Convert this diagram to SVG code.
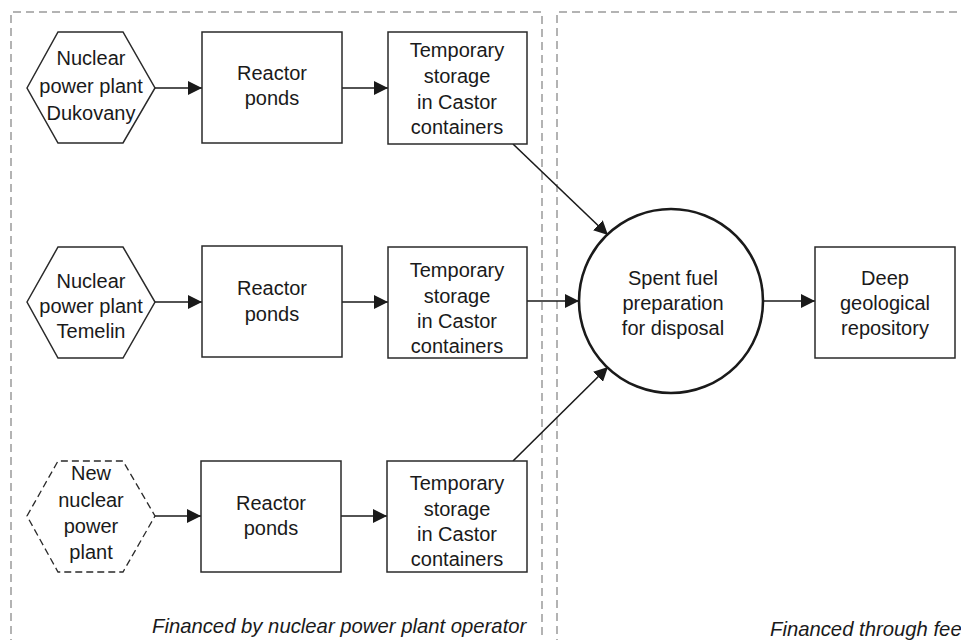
<svg xmlns="http://www.w3.org/2000/svg" width="961" height="640" viewBox="0 0 961 640">
<style>
.region{fill:none;stroke:#9a9a9a;stroke-width:1.5;stroke-dasharray:8 5}
.box{fill:#fff;stroke:#2a2a2a;stroke-width:1.5}
.hexd{fill:#fff;stroke:#2a2a2a;stroke-width:1.3;stroke-dasharray:7 4}
.circ{fill:#fff;stroke:#1a1a1a;stroke-width:2.6}
.t{font-family:"Liberation Sans",Arial,sans-serif;font-size:20px;fill:#1a1a1a;text-anchor:middle}
.cap{font-family:"Liberation Sans",Arial,sans-serif;font-size:20.3px;font-style:italic;fill:#1a1a1a}
.c{stroke:#1a1a1a;stroke-width:1.6;fill:none;marker-end:url(#ah)}
</style>
<defs>
<marker id="ah" viewBox="0 0 14 14" refX="14" refY="7" markerWidth="14" markerHeight="14" markerUnits="userSpaceOnUse" orient="auto">
<path d="M0,0 L14,7 L0,14 Z" fill="#1a1a1a"/>
</marker>
</defs>
<rect width="961" height="640" fill="#fff"/>
<g id="regions">
<path class="region" d="M11,660 V12 H542 V660"/>
<path class="region" d="M557,660 V12 H980"/>
<text class="cap" x="152" y="633">Financed by nuclear power plant operator</text>
<text class="cap" x="770" y="636">Financed through fee</text>
</g>
<g id="connectors">
<line class="c" x1="155" y1="88" x2="202" y2="88"/>
<line class="c" x1="342" y1="88" x2="388" y2="88"/>
<line class="c" x1="155" y1="302" x2="202" y2="302"/>
<line class="c" x1="342" y1="302" x2="388" y2="302"/>
<line class="c" x1="155" y1="516" x2="201" y2="516"/>
<line class="c" x1="341" y1="516" x2="387" y2="516"/>
<line class="c" x1="513" y1="144" x2="608" y2="235"/>
<line class="c" x1="527" y1="301" x2="579" y2="301"/>
<line class="c" x1="513" y1="461" x2="608" y2="367"/>
<line class="c" x1="763" y1="301" x2="815" y2="301"/>
</g>
<g id="hex1">
<polygon class="box" points="27,88 58,32 123,32 155,88 123,143 58,143"/>
<text class="t" x="91" y="65">Nuclear</text>
<text class="t" x="91" y="93">power plant</text>
<text class="t" x="91" y="120">Dukovany</text>
</g>
<g id="reactor1">
<rect class="box" x="202" y="32" width="140" height="111"/>
<text class="t" x="272" y="80">Reactor</text>
<text class="t" x="272" y="105">ponds</text>
</g>
<g id="temp1">
<rect class="box" x="388" y="32" width="139" height="112"/>
<text class="t" x="457" y="57">Temporary</text>
<text class="t" x="457" y="83">storage</text>
<text class="t" x="457" y="109">in Castor</text>
<text class="t" x="457" y="134">containers</text>
</g>
<g id="hex2">
<polygon class="box" points="27,302 58,247 123,247 155,302 123,358 58,358"/>
<text class="t" x="91" y="288">Nuclear</text>
<text class="t" x="91" y="313">power plant</text>
<text class="t" x="91" y="338">Temelin</text>
</g>
<g id="reactor2">
<rect class="box" x="202" y="246" width="140" height="111"/>
<text class="t" x="272" y="295">Reactor</text>
<text class="t" x="272" y="321">ponds</text>
</g>
<g id="temp2">
<rect class="box" x="388" y="247" width="139" height="111"/>
<text class="t" x="457" y="277">Temporary</text>
<text class="t" x="457" y="303">storage</text>
<text class="t" x="457" y="328">in Castor</text>
<text class="t" x="457" y="353">containers</text>
</g>
<g id="hex3">
<polygon class="hexd" points="27,516 58,461 123,461 155,516 123,572 58,572"/>
<text class="t" x="91" y="480">New</text>
<text class="t" x="91" y="507">nuclear</text>
<text class="t" x="91" y="533">power</text>
<text class="t" x="91" y="559">plant</text>
</g>
<g id="reactor3">
<rect class="box" x="201" y="461" width="140" height="111"/>
<text class="t" x="271" y="510">Reactor</text>
<text class="t" x="271" y="535">ponds</text>
</g>
<g id="temp3">
<rect class="box" x="387" y="461" width="140" height="111"/>
<text class="t" x="457" y="490">Temporary</text>
<text class="t" x="457" y="516">storage</text>
<text class="t" x="457" y="541">in Castor</text>
<text class="t" x="457" y="566">containers</text>
</g>
<g id="prep">
<circle class="circ" cx="671" cy="301" r="92"/>
<text class="t" x="673" y="285">Spent fuel</text>
<text class="t" x="673" y="310">preparation</text>
<text class="t" x="673" y="335">for disposal</text>
</g>
<g id="repo">
<rect class="box" x="815" y="247" width="140" height="111"/>
<text class="t" x="885" y="285">Deep</text>
<text class="t" x="885" y="310">geological</text>
<text class="t" x="885" y="335">repository</text>
</g>
</svg>
